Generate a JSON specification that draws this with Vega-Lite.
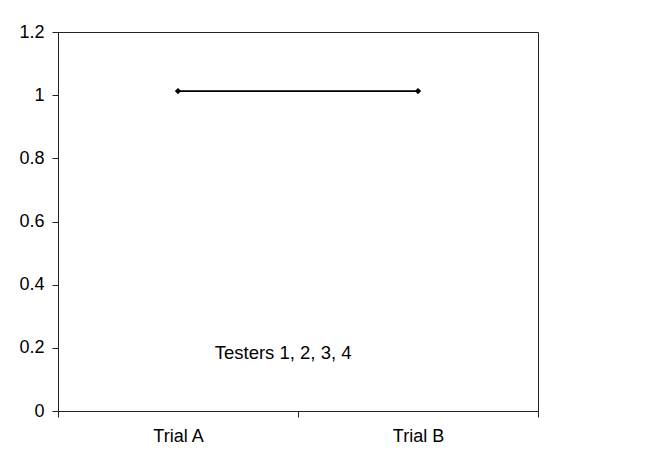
{
  "$schema": "https://vega.github.io/schema/vega-lite/v6.json",
  "width": 480,
  "height": 379,
  "autosize": {"type": "none"},
  "padding": {"left": 58, "top": 32, "right": 131, "bottom": 46},
  "background": "white",
  "config": {
    "view": {"stroke": "#222", "strokeWidth": 1},
    "font": "Liberation Sans",
    "axis": {"grid": false, "domainColor": "#222", "tickColor": "#222", "labelColor": "#000", "labelFont": "Liberation Sans", "labelFontSize": 18, "tickSize": 6, "title": null}
  },
  "layer": [
    {
      "data": {"values": [{"trial": "Trial A", "value": 1.013}, {"trial": "Trial B", "value": 1.013}]},
      "mark": {"type": "line", "color": "#000", "strokeWidth": 1.8, "point": {"filled": true, "color": "#000", "size": 40, "shape": "diamond"}},
      "encoding": {
        "x": {"field": "trial", "type": "nominal", "scale": {"paddingInner": 0, "paddingOuter": 0}, "axis": {"labelAngle": 0, "tickBand": "extent", "labelPadding": 10, "domainColor": "#222"}},
        "y": {"field": "value", "type": "quantitative", "scale": {"domain": [0, 1.2], "nice": false}, "axis": {"values": [0, 0.2, 0.4, 0.6, 0.8, 1, 1.2], "format": "~g", "labelPadding": 8}}
      }
    },
    {
      "data": {"values": [{"pos": 0.469, "value": 0.184, "label": "Testers 1, 2, 3, 4"}]},
      "mark": {"type": "text", "font": "Liberation Sans", "fontSize": 18.5, "color": "#000", "align": "center", "baseline": "middle"},
      "encoding": {
        "x": {"field": "pos", "type": "quantitative", "scale": {"domain": [0, 1]}, "axis": null},
        "y": {"field": "value", "type": "quantitative", "scale": {"domain": [0, 1.2], "nice": false}},
        "text": {"field": "label"}
      }
    }
  ],
  "resolve": {"scale": {"x": "independent"}}
}
